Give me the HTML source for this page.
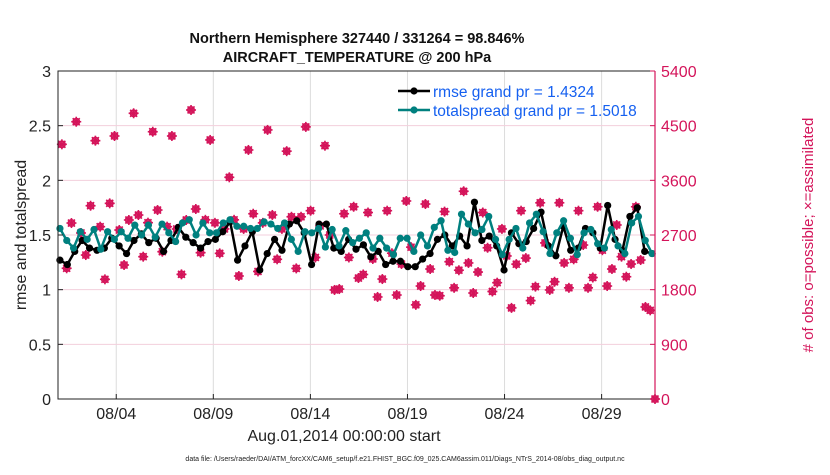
<!DOCTYPE html>
<html><head><meta charset="utf-8"><style>
body{margin:0;background:#fff;font-family:"Liberation Sans",sans-serif}
</style></head><body>
<svg id="c" width="830" height="470" xmlns="http://www.w3.org/2000/svg" font-family="Liberation Sans, sans-serif">
<g id="grid"></g><g id="obs"></g><g id="lines"></g><g id="axes"></g>
</svg>
<script>
const xTickLabels=["08/04","08/09","08/14","08/19","08/24","08/29"];
const xTickDays=[3,8,13,18,23,28];
const leftTicks=[0,0.5,1,1.5,2,2.5,3];
const rightTicks=[0,900,1800,2700,3600,4500,5400];
const rmse=[1.27,1.23,1.35,1.45,1.38,1.36,1.38,1.47,1.40,1.33,1.45,1.51,1.43,1.47,1.35,1.45,1.57,
1.48,1.43,1.38,1.44,1.46,1.53,1.62,1.27,1.40,1.53,1.18,1.33,1.46,1.36,1.60,1.63,1.52,1.23,1.60,
1.60,1.38,1.35,1.46,1.37,1.41,1.30,1.35,1.23,1.26,1.26,1.21,1.21,1.28,1.33,1.46,1.50,1.40,
1.49,1.40,1.80,1.45,1.49,1.40,1.18,1.52,1.42,1.44,1.56,1.71,1.40,1.31,1.58,1.36,1.38,1.56,1.52,1.38,1.77,1.46,1.36,1.67,1.75,1.35,1.33];
const spread=[1.56,1.45,1.38,1.53,1.46,1.55,1.37,1.53,1.46,1.53,1.47,1.59,1.50,1.59,1.48,1.60,
1.52,1.44,1.61,1.64,1.50,1.61,1.52,1.52,1.61,1.64,1.58,1.58,1.56,1.56,1.62,1.60,1.56,1.61,1.46,1.35,1.53,
1.52,1.56,1.39,1.55,1.40,1.54,1.43,1.47,1.52,1.38,1.47,1.38,1.32,1.47,1.47,1.35,1.50,1.40,1.57,1.63,
1.36,1.34,1.69,1.60,1.52,1.55,1.67,1.46,1.32,1.46,1.56,1.38,1.61,1.69,1.53,1.33,1.52,1.63,1.47,1.32,1.52,1.55,1.42,1.38,1.55,1.40,1.33,1.61,1.67,1.45,1.33];
const obsCount=[4193,2152,2897,4565,2733,2370,3182,4253,2837,1970,3221,4330,2782,2206,2947,4704,3029,2343,2903,4400,3111,2425,2837,4330,2799,2052,2947,4758,3128,2409,
2950,4265,2900,2398,2800,3650,2950,2025,2800,4100,3050,2100,2900,4430,3030,2300,2800,4080,3000,2150,3000,4480,3100,2330,2850,4170,2700,1795,1810,3050,2330,
3165,1992,2050,3070,2305,1680,1975,3100,2400,1712,2222,3260,2500,1550,1860,3210,2140,1712,1700,3085,2260,1830,2120,3420,2240,1745,2090,3070,2490,1770,1915,2800,2355,1500,2220,3100,2320,1620,1850,3230,2570,1795,1930,3230,2240,1830,2300,3100,2535,1830,2000,3165,2450,1860,2140,2865,2343,2013,2222,3165,2288,1515,1460,0];
const X0=58,X1=655,Y0=399,Y1=71,DMAX=30.75;
const xs=d=>X0+(d/DMAX)*(X1-X0);
const yl=v=>Y0-(v/3)*(Y0-Y1);
const yr=v=>Y0-(v/5400)*(Y0-Y1);
const NS="http://www.w3.org/2000/svg";
function mk(t,a,p){const e=document.createElementNS(NS,t);for(const k in a)e.setAttribute(k,a[k]);p.appendChild(e);return e;}
const G=document.getElementById('grid'),O=document.getElementById('obs'),L=document.getElementById('lines'),A=document.getElementById('axes');
xTickDays.forEach((d,i)=>{const l=mk('line',{x1:xs(d),x2:xs(d),y1:Y1,y2:Y0,stroke:'#dcdcdc','stroke-width':1},G);
});
leftTicks.forEach(v=>{if(v>0&&v<3){const l=mk('line',{x1:X0,x2:X1,y1:yl(v),y2:yl(v),stroke:'#f3cfdc','stroke-width':1},G);
}});
// obs
const col='#d4145a';
obsCount.forEach((v,i)=>{const d=0.2+i*(DMAX-0.2)/(obsCount.length-1);const x=xs(d),y=yr(v);
const g=mk('g',{stroke:col,'stroke-width':1.6,fill:'none'},O);

mk('circle',{cx:x,cy:y,r:3.2},g);mk('line',{x1:x-5,x2:x+5,y1:y,y2:y},g);mk('line',{x1:x,x2:x,y1:y-5,y2:y+5},g);
mk('line',{x1:x-3.5,x2:x+3.5,y1:y-3.5,y2:y+3.5},g);mk('line',{x1:x-3.5,x2:x+3.5,y1:y+3.5,y2:y-3.5},g);});
function series(arr,color,name){const n=arr.length;const pts=arr.map((v,i)=>[xs(0.1+i*(30.6-0.1)/(n-1)),yl(v)]);
const p=mk('polyline',{points:pts.map(p=>p.join(',')).join(' '),fill:'none',stroke:color,'stroke-width':2.5,'stroke-linejoin':'round'},L);

pts.forEach(q=>{const c=mk('circle',{cx:q[0],cy:q[1],r:3.6,fill:color},L);});}
series(rmse,'#000','rmse');series(spread,'#00807f','totalspread');
// axes
let e;
e=mk('path',{d:`M${X1},${Y1}H${X0}V${Y0}H${X1}`,fill:'none',stroke:'#222','stroke-width':1},A);
e=mk('line',{x1:X1,x2:X1,y1:Y1,y2:Y0,stroke:col,'stroke-width':1.2},A);
leftTicks.forEach(v=>{mk('line',{x1:X0,x2:X0+5,y1:yl(v),y2:yl(v),stroke:'#222'},A);
const t=mk('text',{x:X0-7,y:yl(v)+6,'text-anchor':'end','font-size':16,fill:'#222'},A);t.textContent=v;
});
rightTicks.forEach(v=>{mk('line',{x1:X1-5,x2:X1,y1:yr(v),y2:yr(v),stroke:col},A);
const t=mk('text',{x:X1+6,y:yr(v)+6,'font-size':16,fill:col},A);t.textContent=v;
});
xTickDays.forEach((d,i)=>{mk('line',{x1:xs(d),x2:xs(d),y1:Y0,y2:Y0-5,stroke:'#222'},A);
const t=mk('text',{x:xs(d),y:419,'text-anchor':'middle','font-size':16,fill:'#222'},A);t.textContent=xTickLabels[i];
});
</script>
<svg width="830" height="470" style="position:absolute;left:0;top:0" font-family="Liberation Sans, sans-serif">
<text x="357" y="43" text-anchor="middle" font-size="14.5" font-weight="bold" fill="#111">Northern Hemisphere 327440 / 331264 = 98.846%</text>
<text x="357" y="62" text-anchor="middle" font-size="14.5" font-weight="bold" fill="#111">AIRCRAFT_TEMPERATURE @ 200 hPa</text>
<text transform="translate(26,235) rotate(-90)" text-anchor="middle" font-size="16" fill="#222">rmse and totalspread</text>
<text transform="translate(813,235) rotate(-90)" text-anchor="middle" font-size="15" fill="#d4145a"># of obs: o=possible; ×=assimilated</text>
<text x="344" y="441" text-anchor="middle" font-size="16" fill="#222">Aug.01,2014 00:00:00 start</text>
<text x="405" y="461" text-anchor="middle" font-size="7" fill="#222">data file: /Users/raeder/DAI/ATM_forcXX/CAM6_setup/f.e21.FHIST_BGC.f09_025.CAM6assim.011/Diags_NTrS_2014-08/obs_diag_output.nc</text>
<g>
<line x1="398" x2="430" y1="91" y2="91" stroke="#000" stroke-width="2.5"/><circle cx="414" cy="91" r="3.6" fill="#000"/>
<text x="433" y="97" font-size="15.5" fill="#1560f0">rmse grand pr = 1.4324</text>
<line x1="398" x2="430" y1="110" y2="110" stroke="#00807f" stroke-width="2.5"/><circle cx="414" cy="110" r="3.6" fill="#00807f"/>
<text x="433" y="116" font-size="15.5" fill="#1560f0">totalspread grand pr = 1.5018</text>
</g>
</svg>
</body></html>
